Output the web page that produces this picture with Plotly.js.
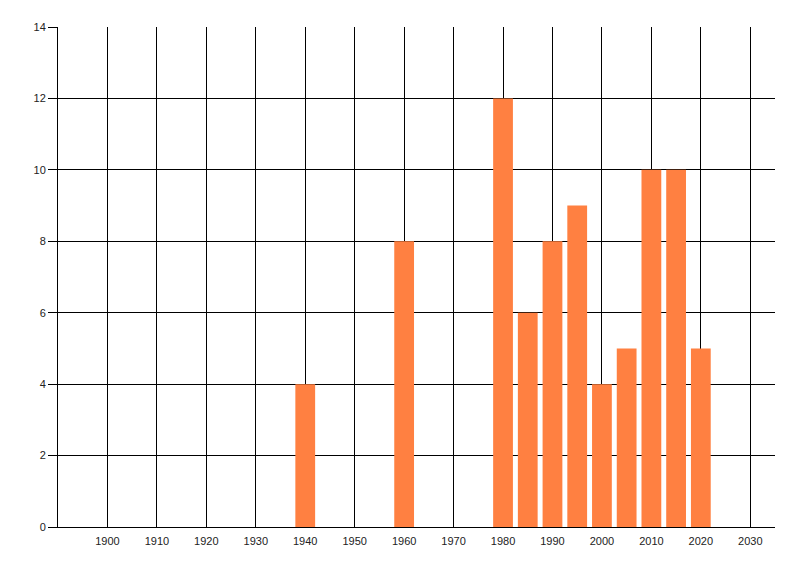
<!DOCTYPE html>
<html>
<head>
<meta charset="utf-8">
<script src="https://cdn.plot.ly/plotly-3.0.1.min.js"></script>
<style>
  html, body { margin: 0; padding: 0; background: #fff; }
  #chart { width: 800px; height: 576px; }
</style>
</head>
<body>
<div id="chart"></div>
<script>
// Values
const years  = [1940, 1960, 1980, 1985, 1990, 1995, 2000, 2005, 2010, 2015, 2020];
const counts = [4, 8, 12, 6, 8, 9, 4, 5, 10, 10, 5];
const xTickVals = [1900, 1910, 1920, 1930, 1940, 1950, 1960, 1970, 1980, 1990, 2000, 2010, 2020, 2030];
const yTickVals = [0, 2, 4, 6, 8, 10, 12, 14];

const data = [{
  type: 'bar',
  x: years,
  y: counts,
  width: 4,
  marker: {color: '#ff8041', line: {width: 0}},
  hoverinfo: 'x+y'
}];

const tickFont = {family: 'Liberation Sans, Arial, sans-serif', size: 11, color: '#222'};

const layout = {
  width: 800,
  height: 576,
  margin: {l: 58, r: 25, t: 27, b: 49},
  paper_bgcolor: '#fff',
  plot_bgcolor: '#fff',
  showlegend: false,
  xaxis: {
    range: [1890, 2035],
    tickmode: 'array',
    tickvals: xTickVals,
    showgrid: true,
    gridcolor: '#000',
    gridwidth: 1,
    zeroline: false,
    showline: true,
    linecolor: '#000',
    linewidth: 1,
    ticks: '',
    ticklabelstandoff: 4,
    tickfont: tickFont
  },
  yaxis: {
    range: [0, 14],
    tickmode: 'array',
    tickvals: yTickVals,
    showgrid: true,
    gridcolor: '#000',
    gridwidth: 1,
    zeroline: false,
    showline: true,
    linecolor: '#000',
    linewidth: 1,
    ticks: 'outside',
    ticklen: 9,
    tickcolor: '#000',
    tickfont: tickFont
  }
};

Plotly.newPlot('chart', data, layout, {displayModeBar: false, staticPlot: true});
</script>
</body>
</html>
